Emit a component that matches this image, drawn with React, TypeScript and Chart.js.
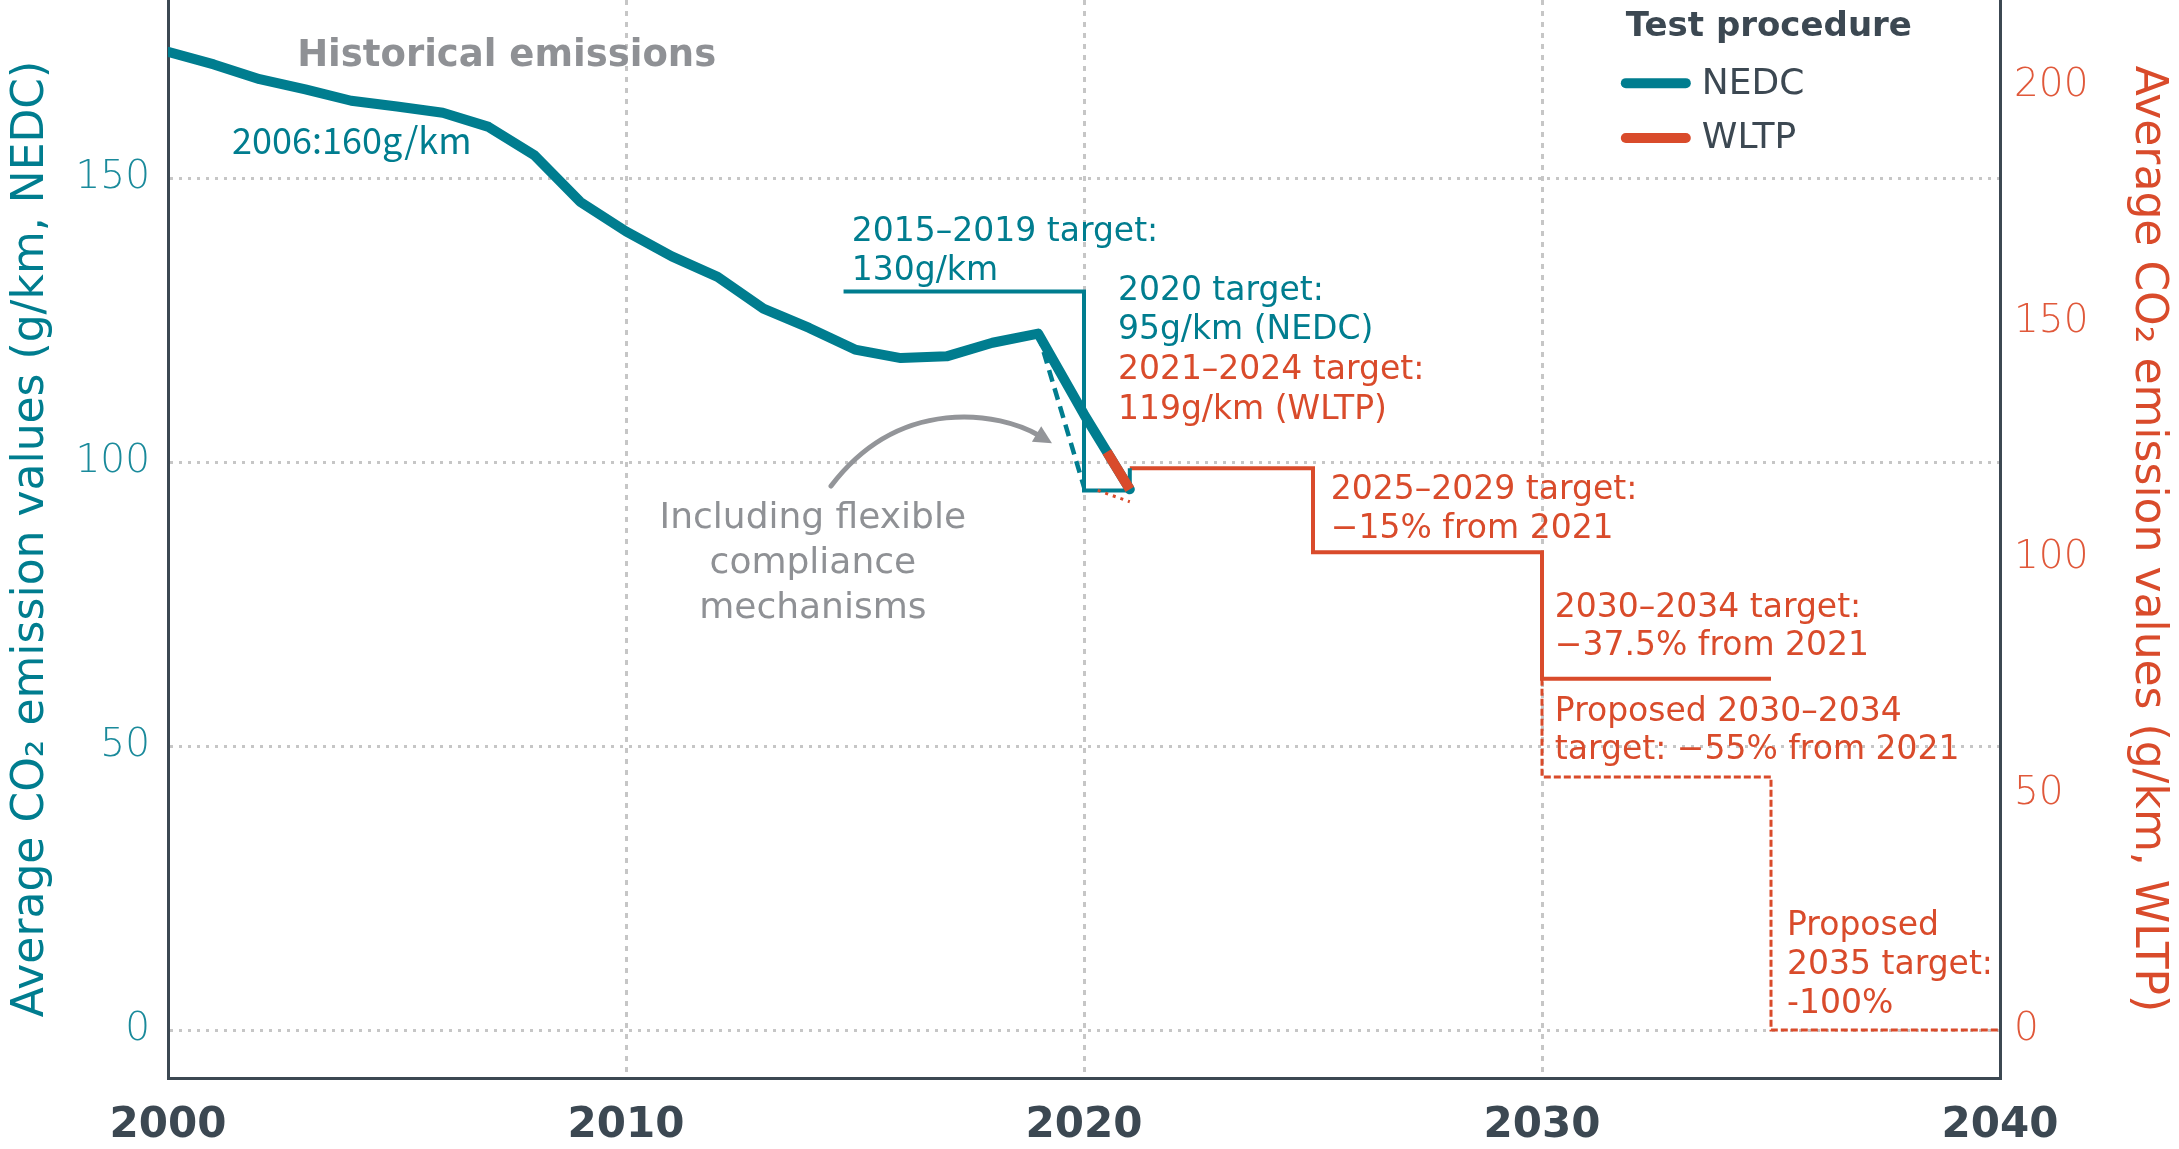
import React, { useEffect, useRef } from "react";
import { Chart, registerables } from "chart.js";

Chart.register(...registerables);

const TEAL = "#007d8f";
const TEAL_LIGHT = "#1a8a9b";
const ORANGE = "#d94b2b";
const ORANGE_LIGHT = "#e0583a";
const GRAY_TEXT = "#8f9195";
const AXIS = "#3c4852";
const GRID = "#c6c6c6";
const FONT = "'DejaVu Sans', 'Noto Sans', sans-serif";

// ---- data ----
const historicalYears = [2000, 2001, 2002, 2003, 2004, 2005, 2006, 2007, 2008, 2009, 2010, 2011, 2012, 2013, 2014, 2015, 2016, 2017, 2018, 2019, 2020, 2021];
const historicalNEDC = [172.2, 170.0, 167.4, 165.6, 163.6, 162.6, 161.5, 159.0, 154.0, 145.8, 140.6, 136.2, 132.6, 127.0, 123.6, 119.8, 118.3, 118.6, 121.0, 122.6, 108.4, 95.2];

const wltpSegmentYears = [2020.5, 2021];
const wltpSegmentValues = [101.8, 95.2];

const flexYears = [2019, 2020];
const flexNEDC = [122.6, 95.6];
const flexWltpYears = [2020.3, 2021];
const flexWltpValues = [95.0, 93.0];

const nedcTargetYears = [2014.75, 2020, 2020, 2021, 2021];
const nedcTargetValues = [130, 130, 95, 95, 98.9];

const wltpTargetYears = [2021, 2025, 2025, 2030, 2030, 2035];
const wltpTargetValues = [119, 119, 101.2, 101.2, 74.4, 74.4];

const proposedYears = [2030, 2030, 2035, 2035, 2040];
const proposedValues = [74.4, 53.6, 53.6, 0, 0];

const xTicks = [2000, 2010, 2020, 2030, 2040];
const leftTicks = [0, 50, 100, 150];
const rightTicks = [0, 50, 100, 150, 200];

const legendLabels = ["NEDC", "WLTP"];
const legendColors = [TEAL, ORANGE];
const legendTitle = "Test procedure";

type Note = { x: number; y: number; lines: string[]; color: string; font: string; gap: number; align: CanvasTextAlign };

const notes: Note[] = [
  { x: 2002.82, y: 171.4, lines: ["Historical emissions"], color: GRAY_TEXT, font: `bold 37px ${FONT}`, gap: 0, align: "left" },
  { x: 2001.4, y: 156.7, lines: ["2006:160g/km"], color: TEAL, font: "36px 'Noto Sans CJK KR', sans-serif", gap: 0, align: "left" },
  { x: 2014.93, y: 140.5, lines: ["2015–2019 target:", "130g/km"], color: TEAL, font: `33px ${FONT}`, gap: 39, align: "left" },
  { x: 2020.74, y: 130.0, lines: ["2020 target:", "95g/km (NEDC)"], color: TEAL, font: `33px ${FONT}`, gap: 39, align: "left" },
  { x: 2020.74, y: 116.2, lines: ["2021–2024 target:", "119g/km (WLTP)"], color: ORANGE, font: `33px ${FONT}`, gap: 40, align: "left" },
  { x: 2025.39, y: 95.0, lines: ["2025–2029 target:", "−15% from 2021"], color: ORANGE, font: `33px ${FONT}`, gap: 39, align: "left" },
  { x: 2030.28, y: 74.2, lines: ["2030–2034 target:", "−37.5% from 2021"], color: ORANGE, font: `33px ${FONT}`, gap: 38, align: "left" },
  { x: 2030.28, y: 55.9, lines: ["Proposed 2030–2034", "target: −55% from 2021"], color: ORANGE, font: `33px ${FONT}`, gap: 38, align: "left" },
  { x: 2035.35, y: 18.2, lines: ["Proposed", "2035 target:", "-100%"], color: ORANGE, font: `33px ${FONT}`, gap: 39, align: "left" },
  { x: 2014.08, y: 90.1, lines: ["Including flexible", "compliance", "mechanisms"], color: GRAY_TEXT, font: `36px ${FONT}`, gap: 45, align: "center" },
];

// arrow path (cubic bezier) in data units: start, control1, control2, end
const arrowPath = [
  [2014.476, 95.77],
  [2015.983, 111.8],
  [2018.166, 108.8],
  [2019.039, 104.58],
];

const pts = (xs: number[], ys: number[]) => xs.map((x, i) => ({ x, y: ys[i] }));

export default function App() {
  const ref = useRef<HTMLCanvasElement | null>(null);

  useEffect(() => {
    const canvas = ref.current;
    if (!canvas) return;

    const overlay = {
      id: "overlayNotes",
      afterDatasetsDraw(chart: any) {
        const ctx: CanvasRenderingContext2D = chart.ctx;
        const xs = chart.scales.x;
        const ys = chart.scales.y;
        ctx.save();
        for (const n of notes) {
          ctx.font = n.font;
          ctx.fillStyle = n.color;
          ctx.textAlign = n.align;
          ctx.textBaseline = "middle";
          const px = xs.getPixelForValue(n.x);
          const py = ys.getPixelForValue(n.y);
          n.lines.forEach((t, i) => ctx.fillText(t, px, py + i * n.gap));
        }
        // curved arrow
        const p = arrowPath.map(([a, b]) => [xs.getPixelForValue(a), ys.getPixelForValue(b)]);
        ctx.strokeStyle = "#939599";
        ctx.lineWidth = 5;
        ctx.lineCap = "round";
        ctx.beginPath();
        ctx.moveTo(p[0][0], p[0][1]);
        ctx.bezierCurveTo(p[1][0], p[1][1], p[2][0], p[2][1], p[3][0], p[3][1]);
        ctx.stroke();
        const dx = p[3][0] - p[2][0];
        const dy = p[3][1] - p[2][1];
        const len = Math.hypot(dx, dy);
        const ux = dx / len, uy = dy / len;
        const tipX = p[3][0] + ux * 14, tipY = p[3][1] + uy * 14;
        ctx.fillStyle = "#939599";
        ctx.beginPath();
        ctx.moveTo(tipX, tipY);
        ctx.lineTo(p[3][0] - ux * 4 - uy * 9, p[3][1] - uy * 4 + ux * 9);
        ctx.lineTo(p[3][0] - ux * 4 + uy * 9, p[3][1] - uy * 4 - ux * 9);
        ctx.closePath();
        ctx.fill();

        // legend
        const lx = xs.getPixelForValue(2031.83);
        ctx.textAlign = "left";
        ctx.textBaseline = "middle";
        ctx.fillStyle = AXIS;
        ctx.font = `bold 34px ${FONT}`;
        ctx.fillText(legendTitle, lx, ys.getPixelForValue(176.6));
        const itemY = [166.7, 157.04];
        legendLabels.forEach((lab, i) => {
          const y = ys.getPixelForValue(itemY[i]);
          ctx.strokeStyle = legendColors[i];
          ctx.lineWidth = 10;
          ctx.lineCap = "round";
          ctx.beginPath();
          ctx.moveTo(xs.getPixelForValue(2031.83), y);
          ctx.lineTo(xs.getPixelForValue(2033.14), y);
          ctx.stroke();
          ctx.fillStyle = AXIS;
          ctx.font = `36px ${FONT}`;
          ctx.fillText(lab, xs.getPixelForValue(2033.49), y + 1);
        });
        ctx.restore();
      },
    };

    const chart = new Chart(canvas, {
      type: "line",
      data: {
        datasets: [
          { label: "WLTP 2021", data: pts(wltpSegmentYears, wltpSegmentValues), borderColor: ORANGE, borderWidth: 10, yAxisID: "y", borderCapStyle: "butt", order: 0 } as any,
          { label: "NEDC", data: pts(historicalYears, historicalNEDC), borderColor: TEAL, borderWidth: 10, yAxisID: "y", borderJoinStyle: "round", borderCapStyle: "round", order: 1 },
          { label: "NEDC flex", data: pts(flexYears, flexNEDC), borderColor: TEAL, borderWidth: 4.5, borderDash: [12, 7], yAxisID: "y", order: 2 },
          { label: "WLTP flex", data: pts(flexWltpYears, flexWltpValues), borderColor: ORANGE, borderWidth: 3, borderDash: [3, 5], yAxisID: "y", order: 3 },
          { label: "NEDC target", data: pts(nedcTargetYears, nedcTargetValues), borderColor: TEAL, borderWidth: 4, yAxisID: "y", borderJoinStyle: "miter", order: 4 },
          { label: "WLTP target", data: pts(wltpTargetYears, wltpTargetValues), borderColor: ORANGE, borderWidth: 4, yAxisID: "y1", borderJoinStyle: "miter", order: 5 },
          { label: "WLTP proposed", data: pts(proposedYears, proposedValues), borderColor: ORANGE, borderWidth: 3, borderDash: [7, 3], yAxisID: "y1", borderJoinStyle: "miter", order: 6 },
        ],
      },
      options: {
        responsive: false,
        animation: false,
        devicePixelRatio: 1,
        layout: { padding: 0 },
        elements: { point: { radius: 0, hoverRadius: 0 }, line: { tension: 0, fill: false } },
        plugins: { legend: { display: false }, tooltip: { enabled: false }, title: { display: false } },
        events: [],
        scales: {
          x: {
            type: "linear",
            min: 2000,
            max: 2040,
            afterBuildTicks: (s: any) => { s.ticks = xTicks.map((v) => ({ value: v })); },
            afterFit: (s: any) => { s.height = 71; s.paddingLeft = 0; s.paddingRight = 0; },
            ticks: {
              callback: (v: any) => String(v),
              color: AXIS,
              font: { family: FONT, size: 42, weight: "bold" },
              padding: 23,
              maxRotation: 0,
              autoSkip: false,
            },
            grid: {
              color: (c: any) => (c.tick && (c.tick.value === 2000 || c.tick.value === 2040) ? "rgba(0,0,0,0)" : GRID),
              lineWidth: 3,
              drawTicks: false,
            },
            border: { display: true, color: AXIS, width: 3, dash: [5, 6] },
          },
          y: {
            type: "linear",
            position: "left",
            min: -8.45,
            max: 181.34,
            afterBuildTicks: (s: any) => { s.ticks = leftTicks.map((v) => ({ value: v })); },
            afterFit: (s: any) => { s.width = 168; s.paddingTop = 0; s.paddingBottom = 0; },
            ticks: { color: TEAL_LIGHT, font: { family: FONT, size: 39, weight: "200" }, padding: 18 },
            grid: { color: GRID, lineWidth: 3, drawTicks: false },
            border: { display: true, color: AXIS, width: 3, dash: [3, 6] },
            title: {
              display: true,
              text: "Average CO₂ emission values (g/km, NEDC)",
              color: TEAL,
              font: { family: FONT, size: 44, weight: "normal" },
              padding: { top: 5, bottom: 0 },
            },
          },
          y1: {
            type: "linear",
            position: "right",
            min: -10.17,
            max: 218.2,
            afterBuildTicks: (s: any) => { s.ticks = rightTicks.map((v) => ({ value: v })); },
            afterFit: (s: any) => { s.width = 179; s.paddingTop = 0; s.paddingBottom = 0; },
            ticks: { color: ORANGE_LIGHT, font: { family: FONT, size: 39, weight: "200" }, padding: 14 },
            grid: { drawOnChartArea: false, drawTicks: false },
            border: { display: true, color: AXIS, width: 3 },
            title: {
              display: true,
              text: "Average CO₂ emission values (g/km, WLTP)",
              color: ORANGE,
              font: { family: FONT, size: 44, weight: "normal" },
              padding: { top: 5, bottom: 0 },
            },
          },
        },
      } as any,
      plugins: [overlay],
    });

    return () => chart.destroy();
  }, []);

  return (
    <div style={{ position: "absolute", left: 0, top: 0, width: 2179, height: 1149, background: "#ffffff" }}>
      <canvas ref={ref} width={2179} height={1149} style={{ display: "block", width: 2179, height: 1149 }} />
    </div>
  );
}
